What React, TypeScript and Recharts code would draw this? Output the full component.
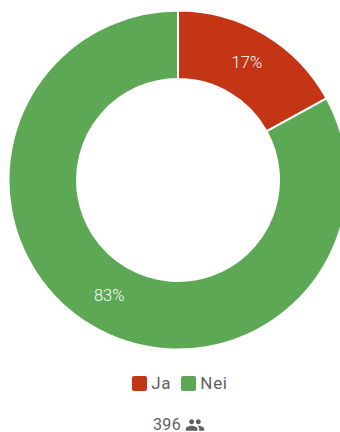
import { PieChart, Pie, Cell, Legend } from 'recharts';

const answers = ['Ja', 'Nei'];
const percentages = [17, 83];
const colors = ['#c43515', '#5ca854'];
const respondents = 396;

const data = answers.map((name, i) => ({ name, value: percentages[i] }));

const RADIAN = Math.PI / 180;

function renderPercent({ cx, cy, midAngle, innerRadius, outerRadius, value }: any) {
  const r = (innerRadius + outerRadius) / 2;
  const x = cx + r * Math.cos(-midAngle * RADIAN);
  const y = cy + r * Math.sin(-midAngle * RADIAN);
  return (
    <text x={x} y={y - 1} fill="#fff" fontSize={16.5} textAnchor="middle" dominantBaseline="central" fontFamily="Roboto" fontWeight={300}>
      {value}%
    </text>
  );
}

function LegendBlock() {
  return (
    <div style={{ fontFamily: 'Roboto', fontSize: 16, color: '#616161', paddingLeft: 20 }}>
      <div style={{ display: 'flex', justifyContent: 'center', alignItems: 'center', height: 20 }}>
        {answers.map((name, i) => (
          <div key={name} style={{ display: 'flex', alignItems: 'center', marginRight: i === 0 ? 10 : 0 }}>
            <span style={{ width: 15, height: 15, borderRadius: 2, background: colors[i], marginRight: 4 }} />
            <span style={{ fontSize: 17, letterSpacing: 0.7 }}>{name}</span>
          </div>
        ))}
      </div>
      <div style={{ display: 'flex', justifyContent: 'center', alignItems: 'center', marginTop: 25, height: 14, lineHeight: '14px', paddingRight: 2 }}>
        <span style={{ letterSpacing: 0.3 }}>{respondents}</span>
        <svg width={20} height={20} viewBox="0 0 24 24" fill="#616161" style={{ flexShrink: 0, margin: '-3px 0 -3px 4px' }}>
          <path d="M16 11c1.66 0 2.99-1.34 2.99-3S17.66 5 16 5c-1.66 0-3 1.34-3 3s1.34 3 3 3zm-8 0c1.66 0 2.99-1.34 2.99-3S9.66 5 8 5C6.34 5 5 6.34 5 8s1.34 3 3 3zm0 2c-2.33 0-7 1.17-7 3.5V19h14v-2.5c0-2.33-4.67-3.5-7-3.5zm8 0c-.29 0-.62.02-.97.05 1.16.84 1.97 1.97 1.97 3.45V19h6v-2.5c0-2.33-4.67-3.5-7-3.5z" />
        </svg>
      </div>
    </div>
  );
}

export default function App() {
  return (
    <div style={{ position: 'absolute', left: 0, top: 0, width: 340, height: 432, overflow: 'hidden', background: '#fff' }}>
      <PieChart width={340} height={432} margin={{ top: 0, right: 0, bottom: 0, left: 0 }}>
        <Pie
          data={data}
          dataKey="value"
          nameKey="name"
          cx={178}
          cy={180}
          innerRadius={101}
          outerRadius={169.5}
          startAngle={90}
          endAngle={-270}
          stroke="#fff"
          strokeWidth={2}
          label={renderPercent}
          labelLine={false}
          isAnimationActive={false}
        >
          {data.map((d, i) => (
            <Cell key={d.name} fill={colors[i]} />
          ))}
        </Pie>
        <Legend content={<LegendBlock />} wrapperStyle={{ left: 0, top: 373, width: 340 }} />
      </PieChart>
    </div>
  );
}
